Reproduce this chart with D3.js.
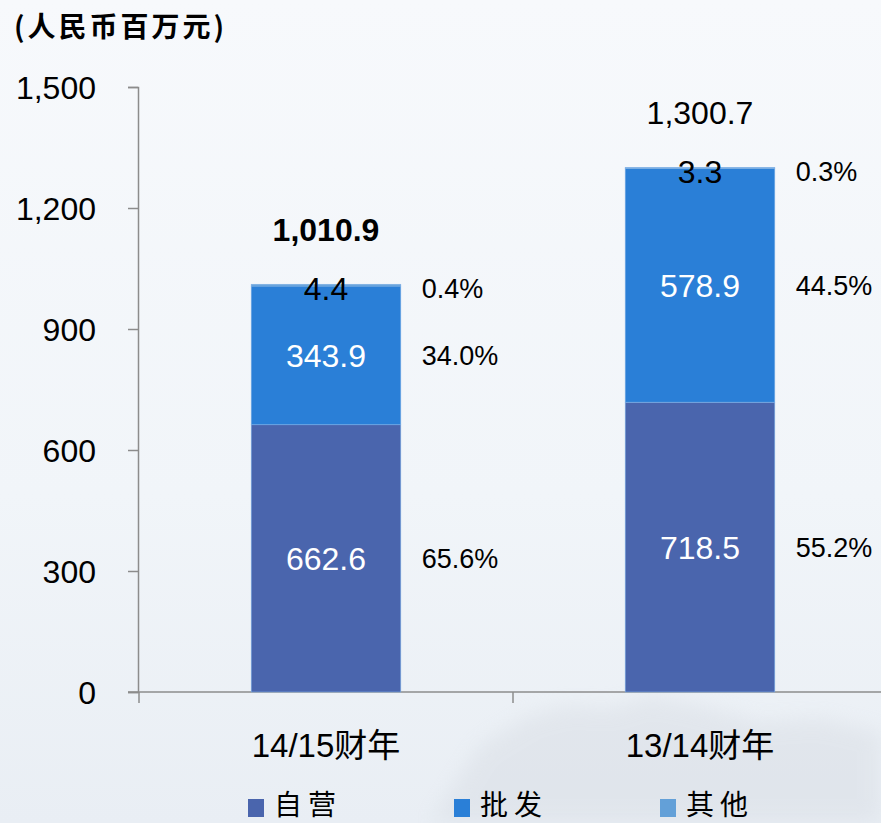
<!DOCTYPE html>
<html><head><meta charset="utf-8">
<script src="https://cdn.jsdelivr.net/npm/d3@7"></script>
<style>
html,body{margin:0;padding:0;background:#f4f7fb;}
svg{display:block;}
</style></head>
<body>
<script>
const categories = ["14/15财年", "13/14财年"];
const seriesNames = ["自营", "批发", "其他"];
const ziying = [662.6, 718.5];
const pifa = [343.9, 578.9];
const qita = [4.4, 3.3];
const ziyingPct = ["65.6%", "55.2%"];
const pifaPct = ["34.0%", "44.5%"];
const qitaPct = ["0.4%", "0.3%"];
const totals = [1010.9, 1300.7];
const yTicks = [0, 300, 600, 900, 1200, 1500];
const colors = ["#4a65ad", "#2a7fd7", "#63a0d8"];
const unitTitle = "(人民币百万元)";

const W = 881, H = 823;
const svg = d3.select("body").append("svg").attr("width", W).attr("height", H);
const defs = svg.append("defs");
const grad = defs.append("linearGradient").attr("id", "bg").attr("x1", 0).attr("y1", 0).attr("x2", 0).attr("y2", 1);
grad.append("stop").attr("offset", "0%").attr("stop-color", "#f7f9fc");
grad.append("stop").attr("offset", "60%").attr("stop-color", "#f1f5f9");
grad.append("stop").attr("offset", "100%").attr("stop-color", "#e9eef4");
defs.append("filter").attr("id", "blur").append("feGaussianBlur").attr("stdDeviation", 10);
svg.append("rect").attr("width", W).attr("height", H).attr("fill", "url(#bg)");
// faint decorative mountains
svg.append("path").attr("d", "M430,823 L480,745 L530,715 L570,705 L610,708 L650,695 L700,705 L760,722 L820,718 L881,732 L881,823 Z")
  .attr("fill", "#ccd1d9").attr("opacity", 0.3).attr("filter", "url(#blur)");

const font = "'Liberation Sans', 'Noto Sans CJK SC', sans-serif";
const cjk = "'Noto Sans CJK SC', sans-serif";

const y = d3.scaleLinear().domain([0, 1500]).range([692, 87]);
const x = d3.scaleBand().domain(categories).range([139, 887]).paddingInner(0.6).paddingOuter(0.3);

// stacked data
const rows = categories.map((c, i) => ({cat: c, idx: i, "自营": ziying[i], "批发": pifa[i], "其他": qita[i], total: totals[i]}));
const pcts = [ziyingPct, pifaPct, qitaPct];
const stack = d3.stack().keys(seriesNames)(rows);

// y axis
const yAxis = d3.axisLeft(y).tickValues(yTicks).tickSize(10).tickPadding(32).tickFormat(d3.format(","));
const gy = svg.append("g").attr("transform", "translate(138,0)").call(yAxis);
gy.select(".domain").attr("stroke", "#8c8c8c").attr("stroke-width", 1.5);
gy.selectAll(".tick line").attr("stroke", "#8c8c8c").attr("stroke-width", 1.5);
gy.selectAll(".tick text").attr("font-family", font).attr("font-size", 32).attr("fill", "#000").attr("dy", "0.36em");

// x axis line + ticks at band boundaries
svg.append("line").attr("x1", 128).attr("x2", W).attr("y1", y(0)).attr("y2", y(0))
  .attr("stroke", "#8c8c8c").attr("stroke-width", 1.5);
const bounds = d3.range(categories.length + 1).map(i => x.range()[0] + i * x.step());
svg.selectAll(".xtick").data(bounds).join("line")
  .attr("x1", d => d).attr("x2", d => d).attr("y1", y(0)).attr("y2", y(0) + 11)
  .attr("stroke", "#8c8c8c").attr("stroke-width", 1.5);

// bars
const layers = svg.selectAll(".layer").data(stack).join("g").attr("fill", (d, i) => colors[i]);
layers.selectAll("rect").data(d => d).join("rect")
  .attr("x", d => x(d.data.cat)).attr("width", x.bandwidth())
  .attr("y", d => y(d[1])).attr("height", d => y(d[0]) - y(d[1]))
  .attr("stroke", "#7fb0e6").attr("stroke-width", 0.6);

// value labels + percentages
stack.forEach((layer, li) => {
  layer.forEach(d => {
    const cy = (y(d[0]) + y(d[1])) / 2 + (li === 2 ? 3 : 0);
    const v = d.data[seriesNames[li]];
    svg.append("text").attr("x", x(d.data.cat) + x.bandwidth() / 2).attr("y", cy).attr("dy", "0.36em")
      .attr("text-anchor", "middle").attr("font-family", font).attr("font-size", 32)
      .attr("fill", li === 2 ? "#000" : "#fff").text(d3.format(".1f")(v));
    svg.append("text").attr("x", x(d.data.cat) + x.bandwidth() + 21).attr("y", cy).attr("dy", "0.36em")
      .attr("font-family", font).attr("font-size", 27).attr("fill", "#000")
      .text(pcts[li][d.data.idx]);
  });
});

// totals
svg.selectAll(".total").data(rows).join("text")
  .attr("x", d => x(d.cat) + x.bandwidth() / 2).attr("y", d => y(d.total) - 55).attr("dy", "0.36em")
  .attr("text-anchor", "middle").attr("font-family", font).attr("font-size", 32)
  .attr("font-weight", (d, i) => i === 0 ? "bold" : "normal").attr("fill", "#000")
  .text(d => d3.format(",.1f")(d.total));

// category labels
svg.selectAll(".cat").data(categories).join("text")
  .attr("x", d => x(d) + x.bandwidth() / 2).attr("y", 757)
  .attr("text-anchor", "middle").attr("font-family", font).attr("font-size", 33).attr("fill", "#000")
  .text(d => d);

// title
svg.append("text").attr("x", 14).attr("y", 37).attr("font-family", cjk).attr("font-size", 28)
  .attr("font-weight", "bold").attr("letter-spacing", 3).attr("fill", "#000").text(unitTitle);

// legend
const lg = svg.selectAll(".lg").data(seriesNames).join("g")
  .attr("transform", (d, i) => `translate(${248 + i * 206},0)`);
lg.append("rect").attr("x", 0).attr("y", 799).attr("width", 16).attr("height", 18).attr("fill", (d, i) => colors[i]);
lg.append("text").attr("x", 26).attr("y", 815).attr("font-family", cjk).attr("font-size", 28)
  .attr("letter-spacing", 6).attr("fill", "#000").text(d => d);
</script>
</body></html>
